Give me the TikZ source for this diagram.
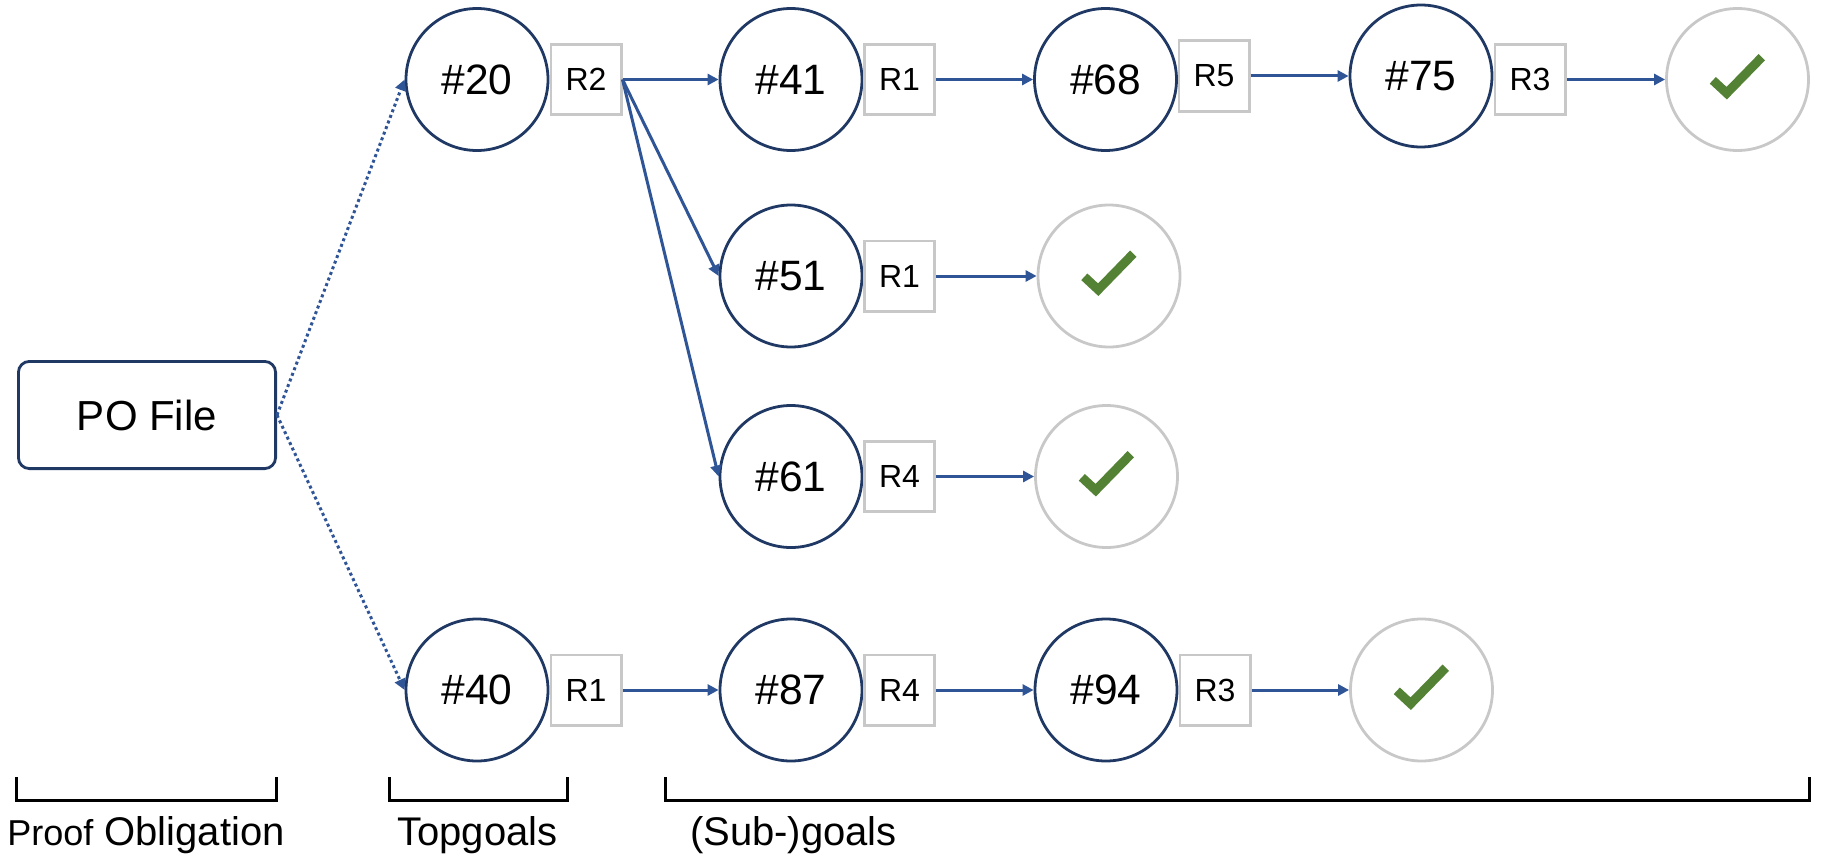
\documentclass[tikz,border=0pt]{standalone}
\usepackage{fontspec}
\setmainfont{Liberation Sans}
\usepackage{xcolor}
\definecolor{colorGoal}{HTML}{203864}
\definecolor{colorFlow}{HTML}{2F5597}
\definecolor{colorRule}{HTML}{C8C8C8}
\definecolor{colorCheck}{HTML}{548235}
\usetikzlibrary{arrows.meta, positioning}
\tikzset{
  goal/.style={circle, draw=colorGoal, line width=2.8pt, minimum size=142pt, inner sep=0pt, font=\fontsize{42.5}{42.5}\selectfont},
  done/.style={circle, draw=colorRule, line width=2.8pt, minimum size=142pt, inner sep=0pt},
  rulebox/.style={rectangle, draw=colorRule, line width=2.8pt, minimum size=70.2pt, inner sep=0pt, font=\fontsize{32}{32}\selectfont},
  pofile/.style={rectangle, rounded corners=11pt, draw=colorGoal, line width=2.8pt, minimum width=257.2pt, minimum height=107.2pt, font=\fontsize{42}{42}\selectfont},
  flow/.style={->, colorFlow, line width=3pt},
  bracket/.style={black, line width=3pt},
  caption/.style={anchor=base, inner sep=0pt, font=\fontsize{40}{40}\selectfont}
}

\begin{document}
\begin{tikzpicture}[>={Triangle[length=11pt,width=11pt]}, x=1pt, y=-1pt, node distance=108.5pt]
\useasboundingbox (0,0) rectangle (1829,859);
\node[pofile] (po) at (147,415) {PO File};
\node[goal] (g20) at (477,79.5) {\#20};
\node[goal] (g40) at (477,690) {\#40};
% top row
\node[rulebox, right of=g20, node distance=109pt] (r20) {R2};
\node[goal, right of=r20, node distance=205pt] (g41) {\#41};
\node[rulebox, right of=g41] (r41) {R1};
\node[goal, right of=r41, node distance=206pt] (g68) {\#68};
\node[rulebox, right of=g68, yshift=3.5pt] (r68) {R5};
\node[goal, right of=r68, node distance=207pt] (g75) {\#75};
\node[rulebox, right of=g75, node distance=109pt, yshift=-3.5pt] (r75) {R3};
\node[done, right of=r75, node distance=207.5pt] (d75) {};
% middle rows
\node[goal, below of=g41, node distance=196.5pt] (g51) {\#51};
\node[rulebox, right of=g51] (r51) {R1};
\node[done, right of=r51, node distance=209.5pt] (d51) {};
\node[goal, below of=g51, node distance=200.5pt] (g61) {\#61};
\node[rulebox, right of=g61] (r61) {R4};
\node[done, right of=r61, node distance=207pt] (d61) {};
% bottom row
\node[rulebox, right of=g40, node distance=109pt] (r40) {R1};
\node[goal, right of=r40, node distance=205pt] (g87) {\#87};
\node[rulebox, right of=g87] (r87) {R4};
\node[goal, right of=r87, node distance=206.5pt] (g94) {\#94};
\node[rulebox, right of=g94, node distance=109pt] (r94) {R3};
\node[done, right of=r94, node distance=206.5pt] (d94) {};
% connectors
\draw [flow, dash pattern=on 3pt off 3pt] (po.east) -- (g20.west);
\draw [flow, dash pattern=on 3pt off 3pt] (po.east) -- (g40.west);
\draw [flow] (r20.east) -- (g41.west);
\draw [flow] (r20.east) -- (g51.west);
\draw [flow] (r20.east) -- (g61.west);
\draw [flow] (r41.east) -- (g68.west);
\draw [flow] (r68.east) -- (g75.west);
\draw [flow] (r75.east) -- (d75.west);
\draw [flow] (r51.east) -- (d51.west);
\draw [flow] (r61.east) -- (d61.west);
\draw [flow] (r40.east) -- (g87.west);
\draw [flow] (r87.east) -- (g94.west);
\draw [flow] (r94.east) -- (d94.west);
% check marks
\foreach \d in {d75, d51, d61, d94} {
  \draw [colorCheck, line width=9pt] ([shift={(-24.7,0.8)}]\d.center) -- ([shift={(-10.8,13.7)}]\d.center) -- ([shift={(24.3,-22.3)}]\d.center);
}
% brackets
\draw [bracket] (16,777) -- (16,800) -- (276,800) -- (276,777);
\draw [bracket] (389,777) -- (389,800) -- (567,800) -- (567,777);
\draw [bracket] (665,777) -- (665,800) -- (1809,800) -- (1809,777);
\node[caption] (capproof) at (146,845) {{\fontsize{36}{36}\selectfont Proof} Obligation};
\node[caption] (captop) at (477.5,845) {Topgoals};
\node[caption] (capsub) at (793.5,845) {(Sub-)goals};
\end{tikzpicture}
\end{document}
